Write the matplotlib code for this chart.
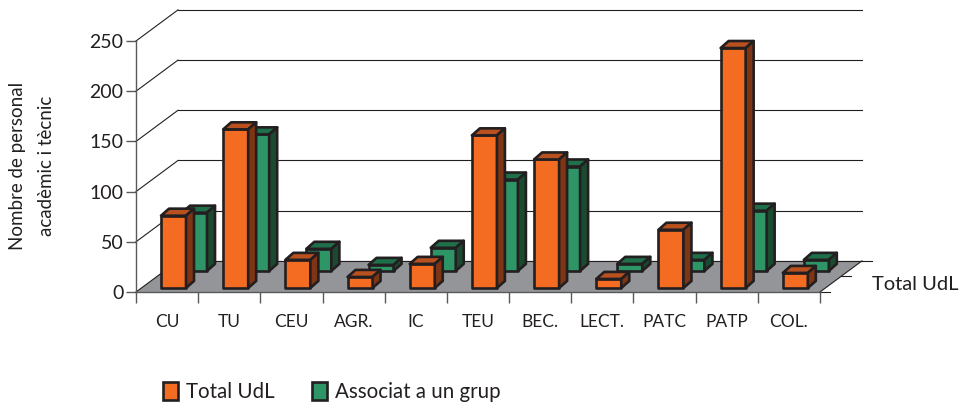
import matplotlib
matplotlib.use("Agg")
import matplotlib.pyplot as plt
from matplotlib.patches import Patch, Polygon

plt.rcParams["font.family"] = ["Lato", "DejaVu Sans"]

categories = ["CU", "TU", "CEU", "AGR.", "IC", "TEU", "BEC.", "LECT.", "PATC", "PATP", "COL."]
total_udl = [72, 158, 28, 11, 24, 152, 128, 9, 58, 239, 15]
associat = [58, 136, 22, 6, 23, 91, 104, 7, 11, 60, 11]
yticks = [0, 50, 100, 150, 200, 250]

W, H = 963, 405
CAT_PX = 684 / 11
DEPTH_X = 42 / CAT_PX   # oblique offset of the back wall
DEPTH_Y = 31

ORANGE = ("#f36c21", "#b9501f", "#7f3414")
GREEN = ("#2e9566", "#1f6f4a", "#1a4a30")
EDGE = "#231f20"

fig = plt.figure(figsize=(W / 100, H / 100), dpi=100)
ax = fig.add_axes([136 / W, (H - 292) / H, 684 / W, 251 / H])
ax.set_xlim(0, len(categories))
ax.set_ylim(0, 250)
ax.patch.set_visible(False)


def bar3d(x, base, val, colors, z):
    w = 25 / CAT_PX
    dx, dy = 8 / CAT_PX, 7
    top = base + val
    front = [(x, base), (x + w, base), (x + w, top), (x, top)]
    side = [(x + w, base), (x + w + dx, base + dy), (x + w + dx, top + dy), (x + w, top)]
    cap = [(x, top), (x + w, top), (x + w + dx, top + dy), (x + dx, top + dy)]
    for pts, c in zip((front, cap, side), colors):
        ax.add_patch(Polygon(pts, closed=True, fc=c, ec=EDGE, lw=1.9, joinstyle="round",
                             clip_on=False, zorder=z))


n = len(categories)
ax.add_patch(Polygon([(0, 0), (n, 0), (n + DEPTH_X, DEPTH_Y), (DEPTH_X, DEPTH_Y)], closed=True,
                     fc="#939598", ec="none", clip_on=False, zorder=1))

# back wall grid and the diagonals going to it
for v in yticks:
    ax.plot([0, DEPTH_X], [v, v + DEPTH_Y], color=EDGE, lw=0.8, clip_on=False, zorder=2)
    ax.plot([DEPTH_X, n + DEPTH_X], [v + DEPTH_Y, v + DEPTH_Y], color=EDGE, lw=0.8, clip_on=False, zorder=2)

# right hand depth axis
ax.plot([n, n + DEPTH_X], [0, DEPTH_Y], color=EDGE, lw=0.8, clip_on=False, zorder=2)
for f in [0, 0.5, 1]:
    x0 = n + f * DEPTH_X
    y0 = f * DEPTH_Y
    ax.plot([x0, x0 + 10 / CAT_PX], [y0, y0], color=EDGE, lw=0.8, clip_on=False, zorder=2)

for i in range(n):
    bar3d(i + 46 / CAT_PX, 21, associat[i], GREEN, 3 + 2 * i)
    bar3d(i + 25 / CAT_PX, 4, total_udl[i], ORANGE, 4 + 2 * i)

for s in ("top", "right"):
    ax.spines[s].set_visible(False)
ax.spines["left"].set_color("#58595b")
ax.spines["bottom"].set_color("#58595b")
ax.spines["left"].set_linewidth(1)
ax.spines["bottom"].set_linewidth(1)

ax.set_yticks(yticks)
ax.set_xticks(range(n + 1))
ax.set_xticklabels([])
ax.set_xticks([i + 0.5 for i in range(n)], minor=True)
ax.set_xticklabels(categories, minor=True)
ax.tick_params(axis="x", which="major", length=8, width=1, color="#58595b")
ax.tick_params(axis="x", which="minor", length=0, pad=16, labelsize=12.5, colors="#231f20")
ax.tick_params(axis="y", length=7, width=1, color="#58595b", pad=2, labelsize=14, labelcolor="#231f20")
for lab in ax.get_yticklabels():
    lab.set_va("center_baseline")

fig.text(32 / W, 1 - 166 / H, "Nombre de personal\nacadèmic i tècnic", rotation=90,
         ha="center", va="center", fontsize=13.5, color="#231f20", linespacing=1.9)
fig.text(872 / W, 1 - 284 / H, "Total UdL", ha="left", va="center", fontsize=14.5, color="#231f20")

handles = [Patch(fc=ORANGE[0], ec=EDGE, lw=1.9), Patch(fc=GREEN[0], ec=EDGE, lw=1.9)]
fig.legend(handles, ["Total UdL", "Associat a un grup"], loc="center left",
           bbox_to_anchor=(144 / W, 1 - 392 / H), ncol=2, frameon=False, fontsize=14.8,
           handlelength=0.75, handleheight=1.0, handletextpad=0.4, columnspacing=1.8,
           labelcolor="#231f20")

fig.savefig("out.png", dpi=100)
